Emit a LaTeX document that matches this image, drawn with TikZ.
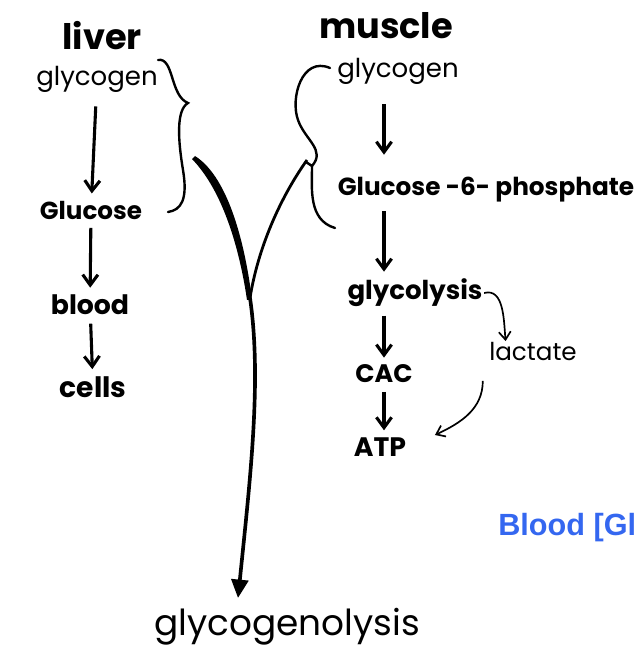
\documentclass[tikz,border=0pt]{standalone}
\usepackage{fontspec}
\setsansfont{Poppins}
\newfontfamily\webfont{Liberation Sans}
\usetikzlibrary{arrows.meta, positioning}
\definecolor{glBlue}{RGB}{52,103,240}

\begin{document}
\begin{tikzpicture}[
  x=0.025cm, y=-0.025cm,
  font=\sffamily,
  every node/.style={inner sep=1pt},
  hand/.style={font=\sffamily\fontsize{#1}{#1}\selectfont},
  handbf/.style={font=\sffamily\bfseries\fontsize{#1}{#1}\selectfont},
  flow/.style={-{Straight Barb[length=2.6mm, width=3.8mm]}, line width=2.2pt,
    shorten <=5pt, shorten >=4pt},
  side/.style={-{Straight Barb[length=2mm, width=3mm]}, line width=1.2pt},
  brace/.style={line width=1.7pt, line cap=round},
]
\useasboundingbox (0,0) rectangle (640,661);

% --- Liver column -----------------------------------------------------------
\node[handbf=25]  (liver)  at (102,36)  {liver};
\node[hand=18.5]  (lglyc)  at (97,79)   {glycogen};
\node[handbf=17.5](lgluc)  at (91,210)  {Glucose};
\node[handbf=19]  (blood)  at (90,305)  {blood};
\node[handbf=20]  (cells)  at (93,387)  {cells};

% --- Muscle column ----------------------------------------------------------
\node[handbf=25]  (muscle) at (386,26)  {muscle};
\node[hand=18.5]  (mglyc)  at (398,71)  {glycogen};
\node[handbf=17.6](g6p)    at (486,190) {Glucose -6- phosphate};
\node[handbf=18.5](glycol) at (415,293) {glycolysis};
\node[handbf=18]  (cac)    at (384,374) {CAC};
\node[handbf=19]  (atp)    at (380,447) {ATP};
\node[hand=17.5]  (lact)   at (533,352) {lactate};

% --- Bottom -----------------------------------------------------------------
\node[hand=25.5]  (glysis) at (287,627) {glycogenolysis};
\node[anchor=base west, font=\webfont\bfseries\fontsize{21.8}{24}\selectfont,
  text=glBlue, inner sep=0pt] (bloodgl) at (498,535) {Blood [Gl};

% --- Arrows -----------------------------------------------------------------
\draw[flow, shorten <=9pt] (lglyc) -- (lgluc);
\foreach \a/\b in {lgluc/blood, blood/cells}
  \draw[flow] (\a) -- (\b);
\draw[flow, shorten <=13pt, shorten >=15pt] (mglyc.south -| cac) -- (g6p.north -| cac);
\foreach \a/\b in {g6p/glycol, glycol/cac, cac/atp}
  \draw[flow] (\a.south -| cac) -- (\b.north -| cac);

\draw[side] (glycol.east) to[out=15, in=95] ([xshift=0.45cm]lact.north west);
\draw[side] ([xshift=-0.12cm, yshift=-0.45cm]lact.south west)
  to[out=-90, in=25] ([xshift=0.68cm, yshift=0.3cm]atp.east);

% --- Braces and the Y -------------------------------------------------------
\draw[brace] (158,60) .. controls (174,57) and (170,96) .. (188,103)
  .. controls (176,110) and (178,140) .. (183,170)
  .. controls (188,200) and (181,210) .. (168,212);
\draw[brace] (330,68) .. controls (302,56) and (290,98) .. (298,120)
  .. controls (305,140) and (326,150) .. (312,166) -- (306,162);
\draw[brace] (312,166) .. controls (312,188) and (308,220) .. (335,228);

\coordinate (yl)   at (195,156);
\coordinate (yr)   at (307,160);
\coordinate (yj)   at (250,298);
\coordinate (ytip) at (238,598);
\fill (yl) .. controls (230,178) and (246,250) .. (252,300)
  -- (247,300) .. controls (240,252) and (224,192) .. (192,159) -- cycle;
\draw[line width=2pt] (yr) .. controls (280,198) and (258,248) .. (yj);
\draw[line width=2.6pt, -{Triangle[length=4.6mm, width=4.2mm]}]
  (yj) .. controls (262,380) and (250,480) .. (ytip);

\end{tikzpicture}
\end{document}
